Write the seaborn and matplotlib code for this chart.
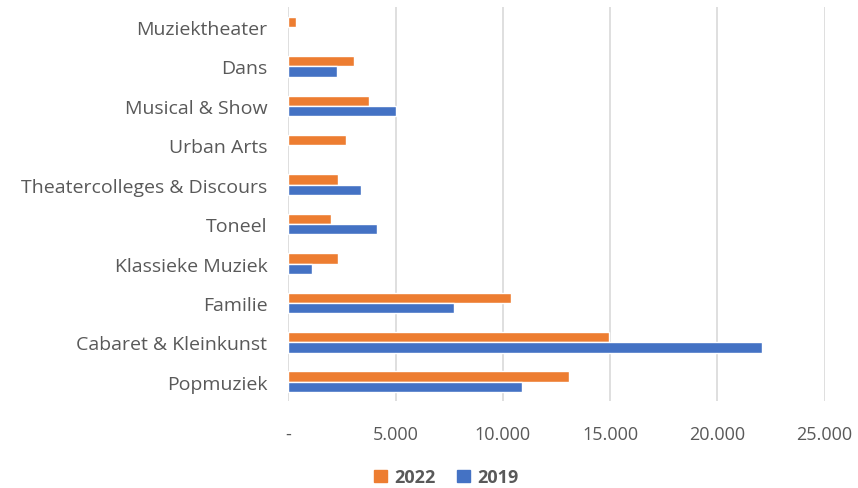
import numpy as np
import pandas as pd
import seaborn as sns
import matplotlib.pyplot as plt
from matplotlib.ticker import FuncFormatter
from matplotlib.patches import Patch

# Data
categories = ["Muziektheater", "Dans", "Musical & Show", "Urban Arts",
              "Theatercolleges & Discours", "Toneel", "Klassieke Muziek",
              "Familie", "Cabaret & Kleinkunst", "Popmuziek"]
values_2022 = [380, 3060, 3770, 2690, 2300, 1990, 2300, 10400, 14950, 13100]
values_2019 = [np.nan, 2270, 5000, np.nan, 3390, 4140, 1110, 7720, 22100, 10900]
years = ["2022", "2019"]
colors = ["#ED7D31", "#4472C4"]

df = pd.DataFrame({
    "category": categories * 2,
    "year": ["2022"] * len(categories) + ["2019"] * len(categories),
    "value": values_2022 + values_2019,
})

sns.set_style("white")
plt.rcParams["font.family"] = ["Open Sans", "DejaVu Sans"]
text_color = "#595959"

fig = plt.figure(figsize=(8.58, 4.89), dpi=100)
ax = fig.add_axes([0.336, 0.177, 0.625, 0.806])

sns.barplot(data=df, x="value", y="category", hue="year", order=categories,
            hue_order=years, palette=colors, orient="h", width=0.52,
            saturation=1, ax=ax, legend=False)

ax.set_xlim(0, 25000)
ax.set_xticks(range(0, 25001, 5000))
ax.xaxis.set_major_formatter(FuncFormatter(
    lambda v, _: "-" if v == 0 else f"{int(v):,}".replace(",", ".")))
ax.grid(axis="x", color="#d9d9d9", linewidth=1.2)
ax.set_axisbelow(True)
for s in ax.spines.values():
    s.set_visible(False)
ax.set_xlabel("")
ax.set_ylabel("")
ax.tick_params(axis="both", length=0, colors=text_color)
ax.tick_params(axis="x", labelsize=13, pad=17)
ax.tick_params(axis="y", labelsize=14, pad=15)

handles = [Patch(color=c, label=y) for c, y in zip(colors, years)]
leg = fig.legend(handles=handles, loc="lower center", bbox_to_anchor=(0.52, -0.03),
                 ncol=2, frameon=False, handlelength=0.7, handleheight=0.7,
                 handletextpad=0.4, columnspacing=1.2,
                 prop={"size": 13, "weight": "bold"})
for t in leg.get_texts():
    t.set_color(text_color)

fig.savefig("out.png", dpi=100)
